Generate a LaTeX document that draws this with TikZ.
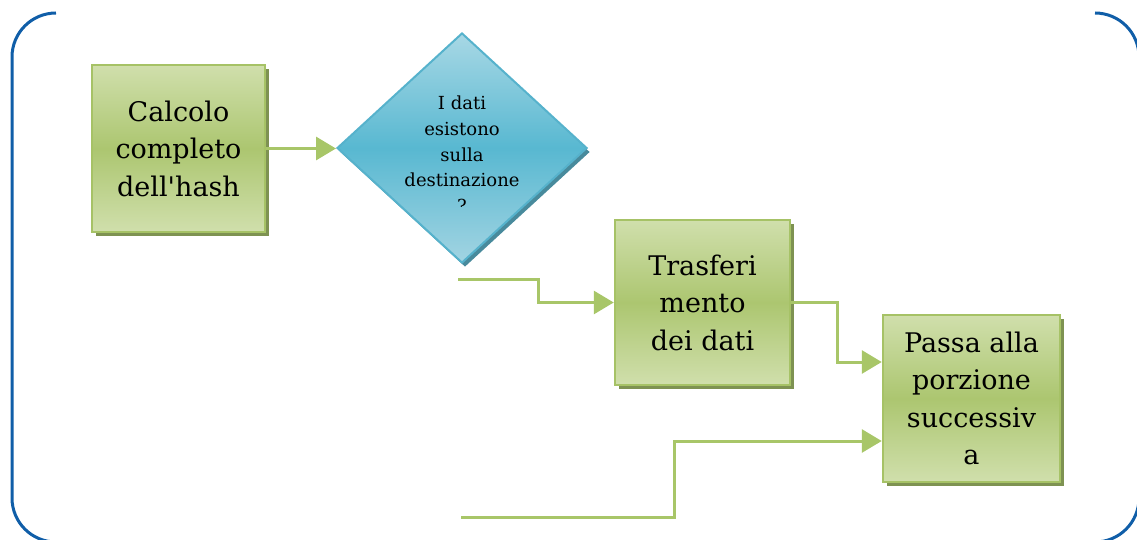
\documentclass[tikz,border=0pt]{standalone}
\usepackage{fontspec}
\setmainfont{DejaVu Serif}
\usetikzlibrary{shapes.geometric,arrows.meta,shadows,calc}

\definecolor{framecol}{RGB}{16,94,168}
\definecolor{boxlight}{RGB}{208,223,172}
\definecolor{boxmid}{RGB}{172,198,112}
\definecolor{boxline}{RGB}{166,194,102}
\definecolor{boxshade}{RGB}{126,146,82}
\definecolor{diatop}{RGB}{168,216,229}
\definecolor{diamid}{RGB}{88,184,209}
\definecolor{diabot}{RGB}{162,212,226}
\definecolor{dialine}{RGB}{86,178,204}
\definecolor{diashade}{RGB}{72,138,156}
\definecolor{conncol}{RGB}{168,198,104}

\tikzset{
  framepath/.style={draw=framecol, line width=3pt, rounded corners=44pt},
  stepbox/.style={rectangle, draw=boxline, line width=2.5pt, inner sep=0pt,
    top color=boxlight, bottom color=boxlight, middle color=boxmid,
    drop shadow={shadow xshift=4pt, shadow yshift=-4pt, fill=boxshade, opacity=1},
    align=center, font=\fontsize{27}{37.5}\selectfont},
  decision/.style={diamond, draw=dialine, line width=2pt, inner sep=0pt,
    top color=diatop, bottom color=diabot, middle color=diamid,
    drop shadow={shadow xshift=3pt, shadow yshift=-4pt, fill=diashade, opacity=1},
    minimum width=250pt, minimum height=230pt},
  decisiontext/.style={align=center, inner sep=0pt, font=\fontsize{18}{25.6}\selectfont},
  conn/.style={draw=conncol, line width=3pt,
    -{Triangle[length=20pt,width=23pt]}, color=conncol}
}

\begin{document}
\begin{tikzpicture}[x=1pt,y=-1pt]
\useasboundingbox (0,0) rectangle (1137,540);
\clip (0,0) rectangle (1137,540);

% bracket frame: open along the top edge
\draw[framepath] (56,13) -- (12,13) -- (12,542) -- (1139,542) -- (1139,13) -- (1095,13);

% process boxes
\node[stepbox, minimum width=173pt, minimum height=167pt] (hash) at (178.5,148.5)
  {Calcolo\\completo\\dell\textquotesingle hash};
\node[stepbox, minimum width=175pt, minimum height=165pt] (xfer) at (702.5,302.5)
  {Trasferi\\mento\\dei dati};
\node[stepbox, minimum width=177pt, minimum height=167pt] (next) at (971.5,398.5)
  {Passa alla\\porzione\\successiv\\a};

% decision
\node[decision] (check) at (462,148) {};
\begin{scope}
  \clip (340,30) rectangle (590,206);
  \node[decisiontext] (checktext) at (462,154.4)
    {I dati\\esistono\\sulla\\destinazione\\?};
\end{scope}

% loose ends of the branches
\coordinate (branchA) at (458,279);
\coordinate (branchB) at (461,517);

% connectors
\draw[conn] (hash.east) -- (hash.east -| check.west);
\draw[conn] (branchA) -- (538,279) |- (xfer.west);
\draw[conn] (xfer.east) -- (837,302.5) |- ($(next.west)+(0,-36.5)$);
\draw[conn] (branchB) -- (674,517) |- ($(next.west)+(0,42.5)$);
\end{tikzpicture}
\end{document}
